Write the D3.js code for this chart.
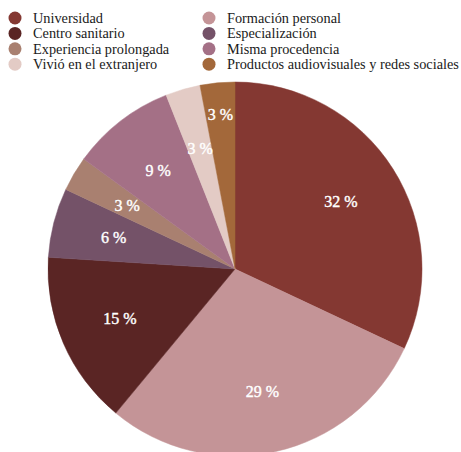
<!DOCTYPE html>
<html>
<head>
<meta charset="utf-8">
<script src="https://cdn.jsdelivr.net/npm/d3@7"></script>
<style>
  body { margin: 0; background: #fff; }
  svg { display: block; }
  text { font-family: "Liberation Serif", "Times New Roman", serif; }
</style>
</head>
<body>
<script>
// data
var categories = ["Universidad", "Formación personal", "Centro sanitario", "Especialización",
                  "Experiencia prolongada", "Misma procedencia", "Vivió en el extranjero",
                  "Productos audiovisuales y redes sociales"];
var values = [32, 29, 15, 6, 3, 9, 3, 3];
var colors = ["#843832", "#c49497", "#5a2524", "#745268", "#a98070", "#a47086", "#e3cbc5", "#a3683a"];

var width = 461, height = 452;
var cx = 235, cy = 269, radius = 187;

var svg = d3.select("body").append("svg")
    .attr("width", width)
    .attr("height", height);

var data = categories.map(function (c, i) {
    return {name: c, value: values[i], color: colors[i]};
});

// pie, clockwise from 12 o'clock, no sorting
var pie = d3.pie().sort(null).value(function (d) { return d.value; });
var arc = d3.arc().innerRadius(0).outerRadius(radius);
var arcs = pie(data);

var g = svg.append("g")
    .attr("transform", "translate(" + cx + "," + cy + ")");

g.selectAll("path.slice")
    .data(arcs)
    .enter()
    .append("path")
    .attr("class", "slice")
    .attr("d", arc)
    .attr("fill", function (d) { return d.data.color; })
    .attr("stroke", function (d) { return d.data.color; })
    .attr("stroke-width", 0.5);

// labels sit about 2/3 out; the last thin slice gets pushed further out
var labelArc = d3.arc().innerRadius(radius * 0.67).outerRadius(radius * 0.67);
var outerLabelArc = d3.arc().innerRadius(radius * 0.83).outerRadius(radius * 0.83);

g.selectAll("text.pct")
    .data(arcs)
    .enter()
    .append("text")
    .attr("class", "pct")
    .attr("transform", function (d, i) {
        var p = (i === arcs.length - 1 ? outerLabelArc : labelArc).centroid(d);
        return "translate(" + p[0] + "," + p[1] + ")";
    })
    .attr("text-anchor", "middle")
    .attr("dy", "0.35em")
    .style("font-size", "16px")
    .attr("fill", "#fff")
    .attr("stroke", "#fff")
    .attr("stroke-width", 0.4)
    .text(function (d) { return d.data.value + " %"; });

// legend: two columns, row-major
var legend = svg.selectAll(".legend")
    .data(data)
    .enter()
    .append("g")
    .attr("class", "legend")
    .attr("transform", function (d, i) {
        var col = i % 2, row = Math.floor(i / 2);
        return "translate(" + (col === 0 ? 15 : 209) + "," + (18 + row * 15.4) + ")";
    });

legend.append("circle")
    .attr("r", 6.5)
    .attr("fill", function (d) { return d.color; });

legend.append("text")
    .attr("x", 18)
    .attr("dy", "0.35em")
    .style("font-size", "14.3px")
    .attr("fill", "#1a1a1a")
    .text(function (d) { return d.name; });
</script>
</body>
</html>
